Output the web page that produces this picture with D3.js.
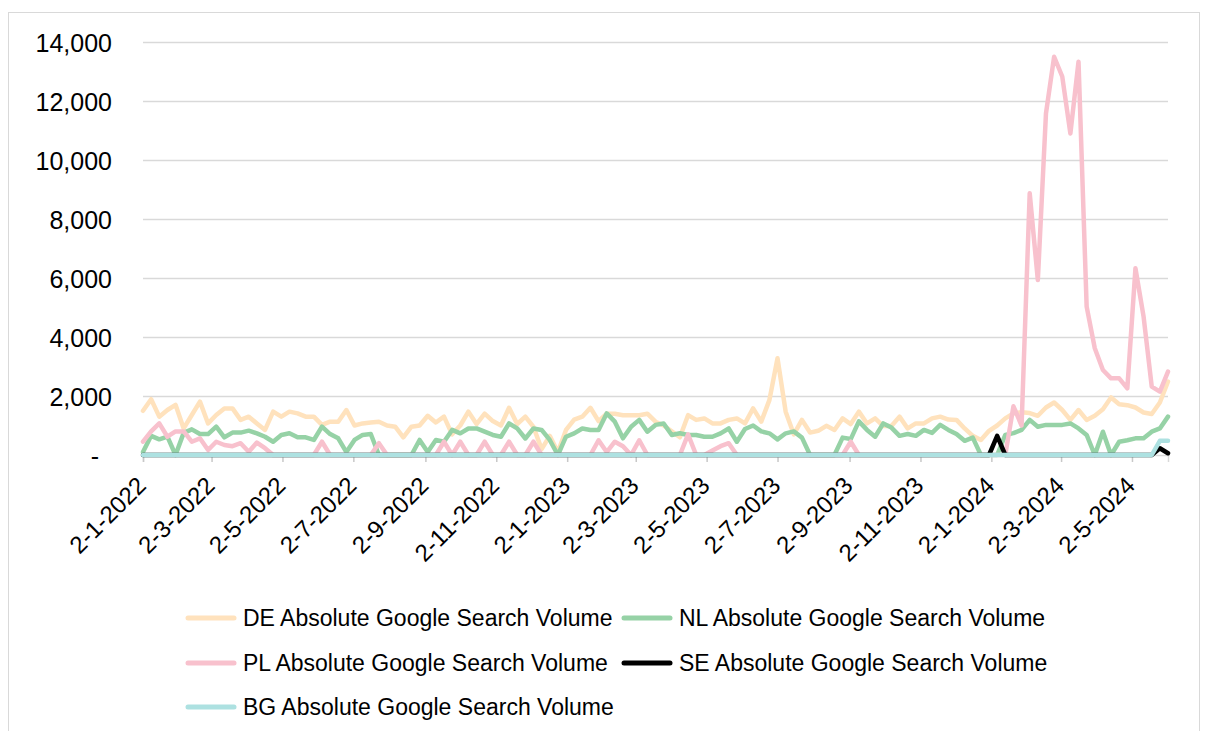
<!DOCTYPE html>
<html>
<head>
<meta charset="utf-8">
<script src="https://cdn.jsdelivr.net/npm/d3@7"></script>
<style>
  html, body { margin: 0; padding: 0; background: #fff; }
  svg { display: block; }
</style>
</head>
<body>
<svg id="chart" width="1208" height="731"></svg>
<script>
// weekly values, first week starts 2-1-2022
const firstWeek = "2-1-2022";

const deVolume = [
  1500,1890,1300,1525,1700,900,1355,1810,1070,1355,
  1580,1580,1190,1300,1070,850,1470,1300,1470,1410,
  1300,1300,1020,1130,1130,1525,1000,1070,1100,1130,
  1000,960,600,960,1000,1330,1100,1300,700,1000,
  1470,1050,1400,1150,1000,1600,1050,1300,950,200,
  650,100,850,1200,1300,1600,1150,1400,1400,1350,
  1350,1350,1400,1130,1000,800,600,1350,1190,1240,
  1070,1070,1190,1240,1070,1580,1130,1860,3280,1470,
  700,1190,760,820,990,850,1240,1050,1470,1070,
  1240,980,980,1300,900,1070,1070,1240,1300,1200,
  1190,900,650,510,820,1000,1240,1410,1450,1420,
  1330,1610,1780,1525,1190,1525,1190,1330,1550,1950,
  1720,1690,1610,1440,1390,1780,2490
];

const nlVolume = [
  100,650,530,620,0,750,870,710,710,960,
  600,760,760,825,735,620,450,680,735,600,
  600,510,960,710,565,100,510,680,710,0,
  0,0,0,0,510,100,510,450,850,735,
  900,900,790,680,620,1070,900,560,900,850,
  510,0,620,735,900,850,850,1410,1130,565,
  960,1190,790,1020,1070,680,735,680,680,620,
  620,735,900,450,880,1000,800,735,530,735,
  800,590,0,0,0,0,590,540,1140,850,
  620,1070,930,650,710,650,850,750,1020,850,
  710,480,590,0,0,0,680,740,850,1190,
  960,1020,1020,1020,1070,900,680,0,790,0,
  450,500,565,565,790,900,1300
];

const plVolume = [
  450,800,1070,620,800,800,450,565,170,450,
  340,300,400,110,420,230,0,0,0,0,
  0,0,450,0,0,0,0,0,0,400,
  0,0,0,0,0,0,0,450,0,450,
  0,0,450,0,0,450,0,0,450,0,
  0,0,0,0,0,0,500,100,450,300,
  0,500,0,0,0,0,0,700,0,0,
  150,300,400,0,0,0,0,0,0,0,
  0,0,0,0,0,0,0,450,0,0,
  0,0,0,0,0,0,0,0,0,0,
  0,0,0,0,0,0,0,1650,1000,8870,
  5930,11580,13500,12830,10900,13330,5030,3620,2880,2600,
  2600,2260,6330,4690,2320,2150,2825
];

const seVolume = [
  0,0,0,0,0,0,0,0,0,0,
  0,0,0,0,0,0,0,0,0,0,
  0,0,0,0,0,0,0,0,0,0,
  0,0,0,0,0,0,0,0,0,0,
  0,0,0,0,0,0,0,0,0,0,
  0,0,0,0,0,0,0,0,0,0,
  0,0,0,0,0,0,0,0,0,0,
  0,0,0,0,0,0,0,0,0,0,
  0,0,0,0,0,0,0,0,0,0,
  0,0,0,0,0,0,0,0,0,0,
  0,0,0,0,0,650,0,0,0,0,
  0,0,0,0,0,0,0,0,0,0,
  0,0,0,0,0,230,60
];

const bgVolume = [
  0,0,0,0,0,0,0,0,0,0,
  0,0,0,0,0,0,0,0,0,0,
  0,0,0,0,0,0,0,0,0,0,
  0,0,0,0,0,0,0,0,0,0,
  0,0,0,0,0,0,0,0,0,0,
  0,0,0,0,0,0,0,0,0,0,
  0,0,0,0,0,0,0,0,0,0,
  0,0,0,0,0,0,0,0,0,0,
  0,0,0,0,0,0,0,0,0,0,
  0,0,0,0,0,0,0,0,0,0,
  0,0,0,0,0,0,0,0,0,0,
  0,0,0,0,0,0,0,0,0,0,
  0,0,0,0,0,480,480
];

const seriesNames = [
  "DE Absolute Google Search Volume",
  "NL Absolute Google Search Volume",
  "PL Absolute Google Search Volume",
  "SE Absolute Google Search Volume",
  "BG Absolute Google Search Volume"
];
const seriesColors = ["#ffe2bd", "#96d2a6", "#f8c1cd", "#000000", "#ade1e1"];

const xTickLabels = [
  "2-1-2022", "2-3-2022", "2-5-2022", "2-7-2022", "2-9-2022", "2-11-2022",
  "2-1-2023", "2-3-2023", "2-5-2023", "2-7-2023", "2-9-2023", "2-11-2023",
  "2-1-2024", "2-3-2024", "2-5-2024"
];
const yTicks = [0, 2000, 4000, 6000, 8000, 10000, 12000, 14000];

var svg = d3.select("#chart");
var parseDate = d3.timeParse("%d-%m-%Y");
var formatDate = d3.timeFormat("%-d-%-m-%Y");

var start = parseDate(firstWeek);
var weeks = deVolume.map(function (d, i) { return d3.timeDay.offset(start, 7 * i); });

var x = d3.scaleTime()
    .domain(d3.extent(weeks))
    .range([143, 1168]);

var y = d3.scaleLinear()
    .domain([0, 14000])
    .range([455, 42]);

// outer chart border
svg.append("rect")
    .attr("x", 8.5).attr("y", 12.5)
    .attr("width", 1191).attr("height", 740)
    .attr("fill", "none")
    .attr("stroke", "#d9d9d9");

// gridlines
svg.append("g")
    .selectAll("line")
    .data(yTicks.filter(function (d) { return d > 0; }))
    .enter().append("line")
    .attr("x1", x.range()[0]).attr("x2", x.range()[1])
    .attr("y1", function (d) { return Math.round(y(d)) + 0.5; })
    .attr("y2", function (d) { return Math.round(y(d)) + 0.5; })
    .attr("stroke", "#d9d9d9")
    .attr("stroke-width", 1.5);

// y axis labels
var yAxis = svg.append("g")
    .attr("transform", "translate(112,0)")
    .call(d3.axisLeft(y)
        .tickValues(yTicks)
        .tickSize(0)
        .tickPadding(0)
        .tickFormat(function (d) { return d === 0 ? "-" : d3.format(",")(d); }));
yAxis.select(".domain").remove();
yAxis.selectAll("text")
    .attr("font-family", "'Liberation Sans', Arial, sans-serif")
    .attr("font-size", 25)
    .attr("fill", "#000")
    .attr("dy", "0.36em")
    .attr("x", function (d) { return d === 0 ? -13 : 0; });

// x axis
var xAxis = svg.append("g")
    .attr("transform", "translate(0,455)")
    .call(d3.axisBottom(x)
        .tickValues(xTickLabels.map(parseDate))
        .tickSize(7)
        .tickFormat(formatDate));
xAxis.select(".domain").attr("stroke", "#d9d9d9").attr("stroke-width", 1.5);
xAxis.selectAll(".tick line").attr("stroke", "#c8c8c8").attr("stroke-width", 1.5);
xAxis.selectAll("text")
    .attr("font-family", "'Liberation Sans', Arial, sans-serif")
    .attr("font-size", 24)
    .attr("fill", "#000")
    .attr("text-anchor", "end")
    .attr("dominant-baseline", "central")
    .attr("y", 0).attr("dy", 0)
    .attr("transform", "translate(-2,26) rotate(-45)");

// lines
var line = d3.line()
    .x(function (d, i) { return x(weeks[i]); })
    .y(function (d) { return y(d); });

var allSeries = [deVolume, nlVolume, plVolume, seVolume, bgVolume];

svg.append("g")
    .selectAll("path")
    .data(allSeries)
    .enter().append("path")
    .attr("d", line)
    .attr("fill", "none")
    .attr("stroke", function (d, i) { return seriesColors[i]; })
    .attr("stroke-width", 4.5)
    .attr("stroke-linejoin", "round")
    .attr("stroke-linecap", "round");

// legend
var legendPos = [
    { x: 186, y: 618 }, { x: 622, y: 618 },
    { x: 186, y: 663 }, { x: 622, y: 663 },
    { x: 186, y: 707 }
];

var legend = svg.append("g")
    .selectAll("g")
    .data(seriesNames)
    .enter().append("g")
    .attr("transform", function (d, i) { return "translate(" + legendPos[i].x + "," + legendPos[i].y + ")"; });

legend.append("line")
    .attr("x1", 2).attr("x2", 48)
    .attr("stroke", function (d, i) { return seriesColors[i]; })
    .attr("stroke-width", 5)
    .attr("stroke-linecap", "round");

legend.append("text")
    .attr("x", 57)
    .attr("dy", "0.35em")
    .attr("font-family", "'Liberation Sans', Arial, sans-serif")
    .attr("font-size", 23)
    .attr("fill", "#000")
    .text(function (d) { return d; });
</script>
</body>
</html>
